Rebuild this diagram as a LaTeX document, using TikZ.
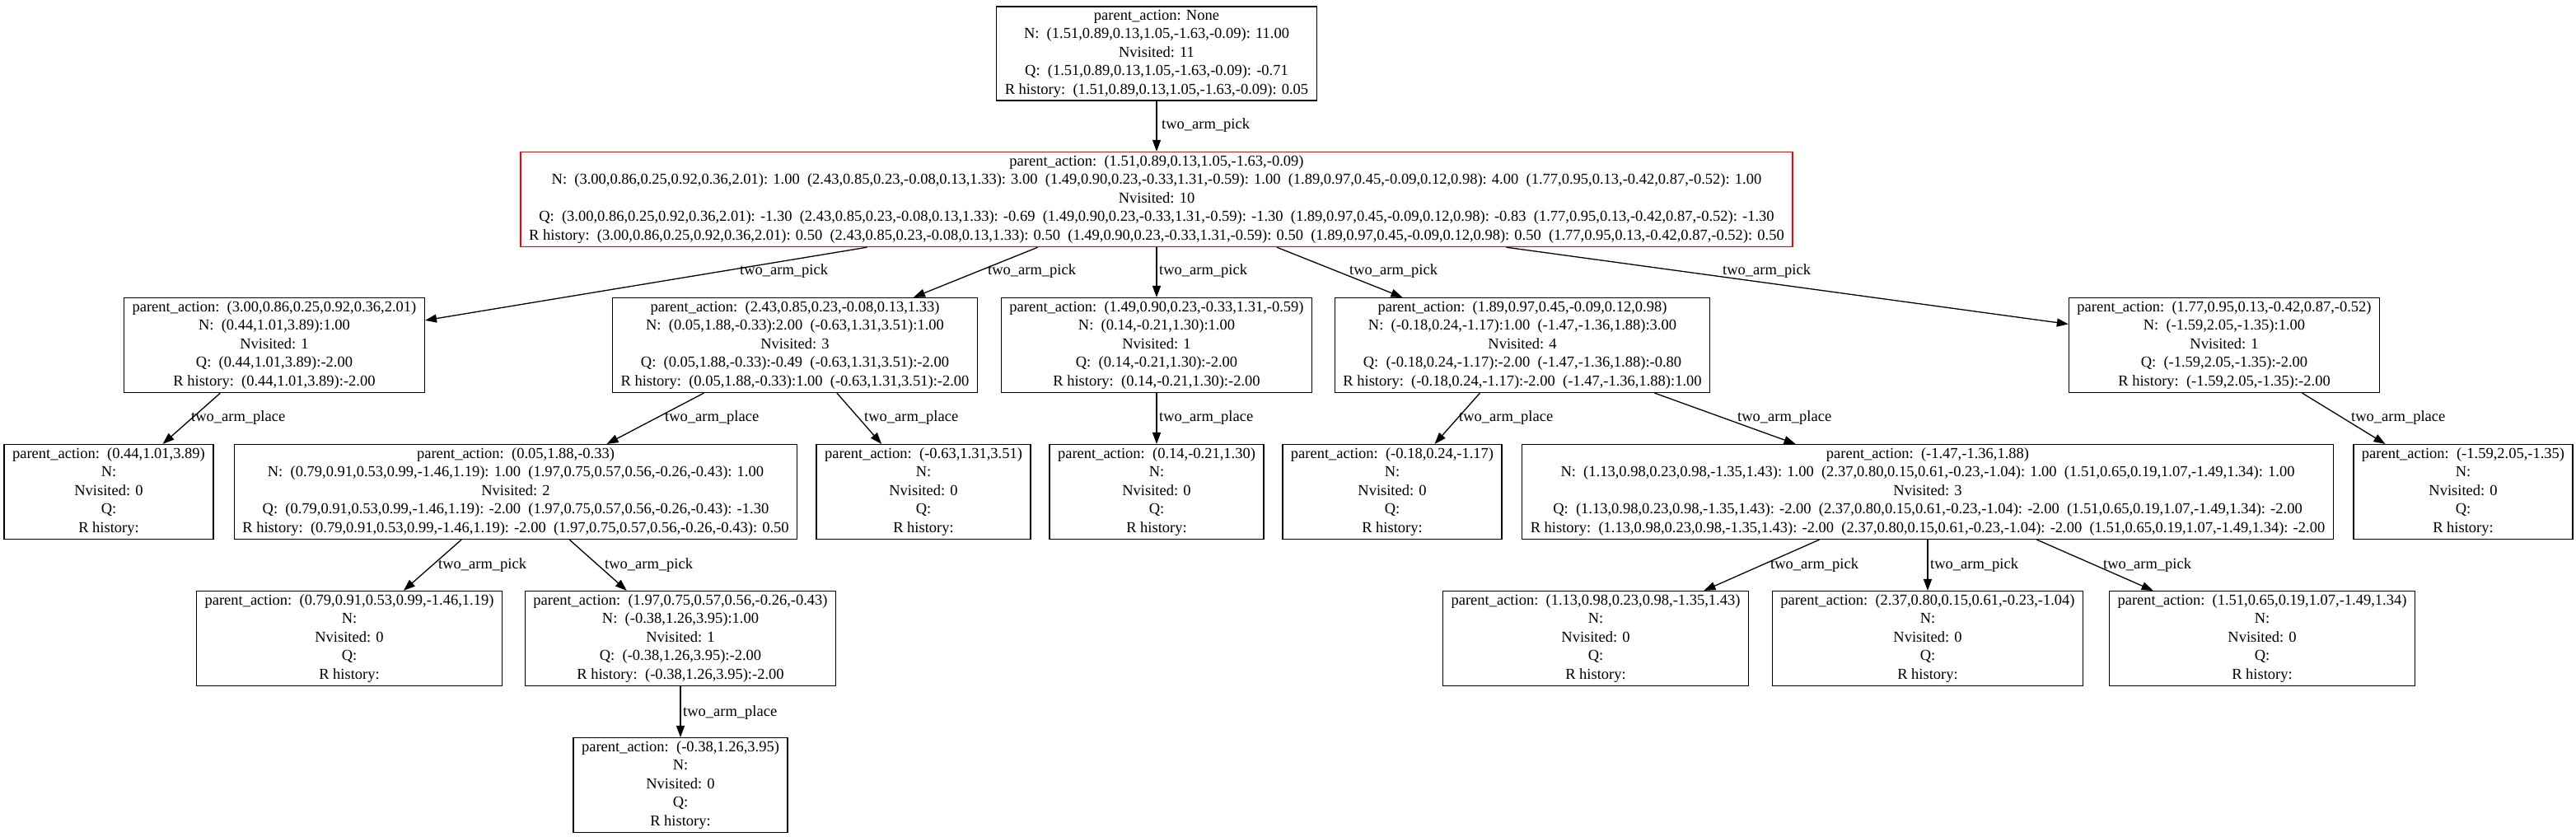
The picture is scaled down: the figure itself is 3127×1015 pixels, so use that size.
\documentclass[tikz,border=0pt]{standalone}
\usepackage{fontspec}
\newfontfamily\gvfont{Liberation Serif}
\usetikzlibrary{arrows.meta}
\tikzset{
  gv/.style={font=\gvfont\fontsize{18.5}{22.5}\selectfont},
  box/.style={gv, draw=black, line width=1.3pt, inner xsep=10pt, inner ysep=4pt, align=center, fill=white},
  redbox/.style={box, draw=red, line width=1.5pt},
  edge/.style={draw=black, line width=1.3pt, -{Triangle[length=14pt,width=10pt]}},
  lbl/.style={gv, anchor=west, inner sep=0pt}
}
\begin{document}
\begin{tikzpicture}[x=1pt,y=-1pt]
\fill[white] (0,0) rectangle (3127,1015);
\useasboundingbox (0,0) rectangle (3127,1015);

% rank 0
\node[box] (n0) at (1404,65) {parent\_action: None\\N:~~(1.51,0.89,0.13,1.05,-1.63,-0.09): 11.00\\Nvisited: 11\\Q:~~(1.51,0.89,0.13,1.05,-1.63,-0.09): -0.71\\R history:~~(1.51,0.89,0.13,1.05,-1.63,-0.09): 0.05};

% rank 1
\node[redbox] (n1) at (1404,242) {parent\_action:~~(1.51,0.89,0.13,1.05,-1.63,-0.09)\\
N:~~(3.00,0.86,0.25,0.92,0.36,2.01): 1.00~~(2.43,0.85,0.23,-0.08,0.13,1.33): 3.00~~(1.49,0.90,0.23,-0.33,1.31,-0.59): 1.00~~(1.89,0.97,0.45,-0.09,0.12,0.98): 4.00~~(1.77,0.95,0.13,-0.42,0.87,-0.52): 1.00\\
Nvisited: 10\\
Q:~~(3.00,0.86,0.25,0.92,0.36,2.01): -1.30~~(2.43,0.85,0.23,-0.08,0.13,1.33): -0.69~~(1.49,0.90,0.23,-0.33,1.31,-0.59): -1.30~~(1.89,0.97,0.45,-0.09,0.12,0.98): -0.83~~(1.77,0.95,0.13,-0.42,0.87,-0.52): -1.30\\
R history:~~(3.00,0.86,0.25,0.92,0.36,2.01): 0.50~~(2.43,0.85,0.23,-0.08,0.13,1.33): 0.50~~(1.49,0.90,0.23,-0.33,1.31,-0.59): 0.50~~(1.89,0.97,0.45,-0.09,0.12,0.98): 0.50~~(1.77,0.95,0.13,-0.42,0.87,-0.52): 0.50};

% rank 2
\node[box] (a) at (333,419) {parent\_action:~~(3.00,0.86,0.25,0.92,0.36,2.01)\\N:~~(0.44,1.01,3.89):1.00\\Nvisited: 1\\Q:~~(0.44,1.01,3.89):-2.00\\R history:~~(0.44,1.01,3.89):-2.00};
\node[box] (b) at (965,419) {parent\_action:~~(2.43,0.85,0.23,-0.08,0.13,1.33)\\N:~~(0.05,1.88,-0.33):2.00~~(-0.63,1.31,3.51):1.00\\Nvisited: 3\\Q:~~(0.05,1.88,-0.33):-0.49~~(-0.63,1.31,3.51):-2.00\\R history:~~(0.05,1.88,-0.33):1.00~~(-0.63,1.31,3.51):-2.00};
\node[box] (c) at (1404,419) {parent\_action:~~(1.49,0.90,0.23,-0.33,1.31,-0.59)\\N:~~(0.14,-0.21,1.30):1.00\\Nvisited: 1\\Q:~~(0.14,-0.21,1.30):-2.00\\R history:~~(0.14,-0.21,1.30):-2.00};
\node[box] (d) at (1848,419) {parent\_action:~~(1.89,0.97,0.45,-0.09,0.12,0.98)\\N:~~(-0.18,0.24,-1.17):1.00~~(-1.47,-1.36,1.88):3.00\\Nvisited: 4\\Q:~~(-0.18,0.24,-1.17):-2.00~~(-1.47,-1.36,1.88):-0.80\\R history:~~(-0.18,0.24,-1.17):-2.00~~(-1.47,-1.36,1.88):1.00};
\node[box] (e) at (2700,419) {parent\_action:~~(1.77,0.95,0.13,-0.42,0.87,-0.52)\\N:~~(-1.59,2.05,-1.35):1.00\\Nvisited: 1\\Q:~~(-1.59,2.05,-1.35):-2.00\\R history:~~(-1.59,2.05,-1.35):-2.00};

% rank 3
\node[box] (f) at (132,597) {parent\_action:~~(0.44,1.01,3.89)\\N:\\Nvisited: 0\\Q:\\R history:};
\node[box] (g) at (626,597) {parent\_action:~~(0.05,1.88,-0.33)\\N:~~(0.79,0.91,0.53,0.99,-1.46,1.19): 1.00~~(1.97,0.75,0.57,0.56,-0.26,-0.43): 1.00\\Nvisited: 2\\Q:~~(0.79,0.91,0.53,0.99,-1.46,1.19): -2.00~~(1.97,0.75,0.57,0.56,-0.26,-0.43): -1.30\\R history:~~(0.79,0.91,0.53,0.99,-1.46,1.19): -2.00~~(1.97,0.75,0.57,0.56,-0.26,-0.43): 0.50};
\node[box] (h) at (1121,597) {parent\_action:~~(-0.63,1.31,3.51)\\N:\\Nvisited: 0\\Q:\\R history:};
\node[box] (i) at (1404,597) {parent\_action:~~(0.14,-0.21,1.30)\\N:\\Nvisited: 0\\Q:\\R history:};
\node[box] (j) at (1690,597) {parent\_action:~~(-0.18,0.24,-1.17)\\N:\\Nvisited: 0\\Q:\\R history:};
\node[box] (k) at (2340,597) {parent\_action:~~(-1.47,-1.36,1.88)\\N:~~(1.13,0.98,0.23,0.98,-1.35,1.43): 1.00~~(2.37,0.80,0.15,0.61,-0.23,-1.04): 1.00~~(1.51,0.65,0.19,1.07,-1.49,1.34): 1.00\\Nvisited: 3\\Q:~~(1.13,0.98,0.23,0.98,-1.35,1.43): -2.00~~(2.37,0.80,0.15,0.61,-0.23,-1.04): -2.00~~(1.51,0.65,0.19,1.07,-1.49,1.34): -2.00\\R history:~~(1.13,0.98,0.23,0.98,-1.35,1.43): -2.00~~(2.37,0.80,0.15,0.61,-0.23,-1.04): -2.00~~(1.51,0.65,0.19,1.07,-1.49,1.34): -2.00};
\node[box] (l) at (2990,597) {parent\_action:~~(-1.59,2.05,-1.35)\\N:\\Nvisited: 0\\Q:\\R history:};

% rank 4
\node[box] (m) at (424,775) {parent\_action:~~(0.79,0.91,0.53,0.99,-1.46,1.19)\\N:\\Nvisited: 0\\Q:\\R history:};
\node[box] (o) at (826,775) {parent\_action:~~(1.97,0.75,0.57,0.56,-0.26,-0.43)\\N:~~(-0.38,1.26,3.95):1.00\\Nvisited: 1\\Q:~~(-0.38,1.26,3.95):-2.00\\R history:~~(-0.38,1.26,3.95):-2.00};
\node[box] (p) at (1937,775) {parent\_action:~~(1.13,0.98,0.23,0.98,-1.35,1.43)\\N:\\Nvisited: 0\\Q:\\R history:};
\node[box] (q) at (2340,775) {parent\_action:~~(2.37,0.80,0.15,0.61,-0.23,-1.04)\\N:\\Nvisited: 0\\Q:\\R history:};
\node[box] (r) at (2746,775) {parent\_action:~~(1.51,0.65,0.19,1.07,-1.49,1.34)\\N:\\Nvisited: 0\\Q:\\R history:};

% rank 5
\node[box] (s) at (826,953) {parent\_action:~~(-0.38,1.26,3.95)\\N:\\Nvisited: 0\\Q:\\R history:};

% edges
\draw[edge] (n0) -- (n1);
\draw[edge] (n1) -- (a);
\draw[edge] (n1) -- (b);
\draw[edge] (n1) -- (c);
\draw[edge] (n1) -- (d);
\draw[edge] (n1) -- (e);
\draw[edge] (a) -- (f);
\draw[edge] (b) -- (g);
\draw[edge] (b) -- (h);
\draw[edge] (c) -- (i);
\draw[edge] (d) -- (j);
\draw[edge] (d) -- (k);
\draw[edge] (e) -- (l);
\draw[edge] (g) -- (m);
\draw[edge] (g) -- (o);
\draw[edge] (k) -- (p);
\draw[edge] (k) -- (q);
\draw[edge] (k) -- (r);
\draw[edge] (o) -- (s);

% edge labels
\node[lbl] (l01) at (1410,152) {two\_arm\_pick};
\node[lbl] (l1a) at (898,329) {two\_arm\_pick};
\node[lbl] (l1b) at (1199,329) {two\_arm\_pick};
\node[lbl] (l1c) at (1407,329) {two\_arm\_pick};
\node[lbl] (l1d) at (1638,329) {two\_arm\_pick};
\node[lbl] (l1e) at (2091,329) {two\_arm\_pick};
\node[lbl] (laf) at (232,507) {two\_arm\_place};
\node[lbl] (lbg) at (807,507) {two\_arm\_place};
\node[lbl] (lbh) at (1049,507) {two\_arm\_place};
\node[lbl] (lci) at (1407,507) {two\_arm\_place};
\node[lbl] (ldj) at (1771,507) {two\_arm\_place};
\node[lbl] (ldk) at (2109,507) {two\_arm\_place};
\node[lbl] (lel) at (2854,507) {two\_arm\_place};
\node[lbl] (lgm) at (532,686) {two\_arm\_pick};
\node[lbl] (lgo) at (734,686) {two\_arm\_pick};
\node[lbl] (lkp) at (2149,686) {two\_arm\_pick};
\node[lbl] (lkq) at (2343,686) {two\_arm\_pick};
\node[lbl] (lkr) at (2553,686) {two\_arm\_pick};
\node[lbl] (los) at (829,865) {two\_arm\_place};
\end{tikzpicture}
\end{document}
